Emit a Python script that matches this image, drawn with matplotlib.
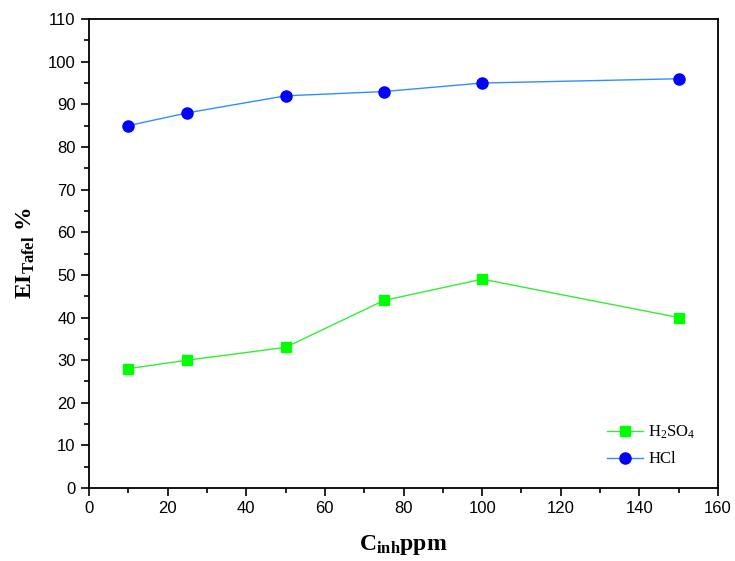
import matplotlib
matplotlib.use("Agg")
import matplotlib.pyplot as plt
from matplotlib.ticker import MultipleLocator

conc = [10, 25, 50, 75, 100, 150]
ei_h2so4 = [28, 30, 33, 44, 49, 40]
ei_hcl = [85, 88, 92, 93, 95, 96]

plt.rcParams['mathtext.fontset'] = 'custom'
plt.rcParams['mathtext.rm'] = 'Liberation Serif'
plt.rcParams['mathtext.bf'] = 'Liberation Serif:bold'
plt.rcParams['mathtext.it'] = 'Liberation Serif:italic'

fig = plt.figure(figsize=(7.35, 5.61), dpi=100)
ax = fig.add_axes([0.121, 0.130, 0.856, 0.836])

ax.plot(conc, ei_h2so4, color='#33ee33', lw=1, marker='s', ms=7,
        mfc='#00ff00', mec='#00ff00', label=r'H$_2$SO$_4$')
ax.plot(conc, ei_hcl, color='#2f8fff', lw=1, marker='o', ms=8,
        mfc='#0000ff', mec='#0000ff', label='HCl')

ax.set_xlim(0, 160)
ax.set_ylim(0, 110)
ax.xaxis.set_major_locator(MultipleLocator(20))
ax.xaxis.set_minor_locator(MultipleLocator(10))
ax.yaxis.set_major_locator(MultipleLocator(10))
ax.yaxis.set_minor_locator(MultipleLocator(5))
ax.tick_params(which='major', direction='out', length=6, width=1.2,
               labelsize=12, top=False, right=False)
ax.tick_params(which='minor', direction='out', length=3.5, width=1.2,
               top=False, right=False)
for lab in ax.get_xticklabels() + ax.get_yticklabels():
    lab.set_fontfamily('Liberation Sans')
for sp in ax.spines.values():
    sp.set_linewidth(1.3)

ax.set_xlabel(r'$\mathbf{C_{inh}}$ppm', fontfamily='Liberation Serif',
              fontweight='bold', fontsize=17, labelpad=12)
ax.set_ylabel(r'$\mathbf{EI_{Tafel}}$ %', fontfamily='Liberation Serif',
              fontweight='bold', fontsize=17, labelpad=8)

leg = ax.legend(loc='lower right', bbox_to_anchor=(0.975, 0.03), frameon=False,
                prop={'family': 'Liberation Serif', 'size': 12},
                handlelength=2.2, handletextpad=0.3, labelspacing=0.6,
                borderaxespad=0)

fig.savefig('out.png', dpi=100)
